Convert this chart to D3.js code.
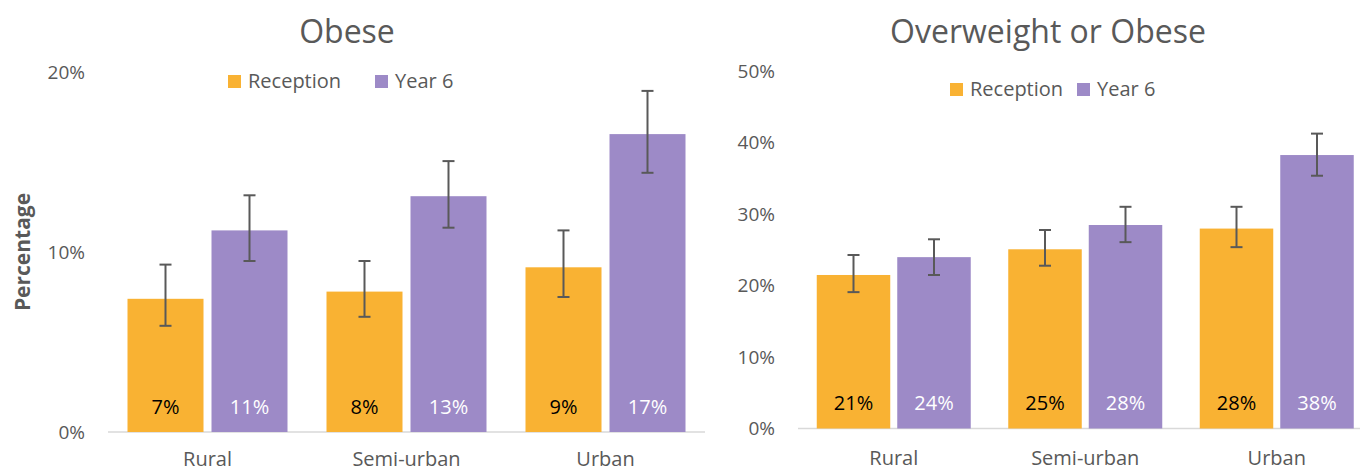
<!DOCTYPE html>
<html>
<head>
<meta charset="utf-8">
<script src="https://cdn.jsdelivr.net/npm/d3@7/dist/d3.min.js"></script>
<style>
  html, body { margin: 0; padding: 0; background: #fff; }
  svg { display: block; font-family: "Open Sans", sans-serif; }
</style>
</head>
<body>
<svg id="chart" width="1360" height="471"></svg>
<script>
// ---- Data ----
const categories = ["Rural", "Semi-urban", "Urban"];
const series = ["Reception", "Year 6"];
const colors = ["#F9B233", "#9D8AC7"];

// Obese panel
const obeseTicks = [0, 10, 20];
const obeseReception = [7.4, 7.8, 9.15];
const obeseReceptionLow = [5.9, 6.4, 7.5];
const obeseReceptionHigh = [9.3, 9.5, 11.2];
const obeseReceptionLabels = ["7%", "8%", "9%"];
const obeseYear6 = [11.2, 13.1, 16.55];
const obeseYear6Low = [9.5, 11.35, 14.4];
const obeseYear6High = [13.15, 15.05, 18.95];
const obeseYear6Labels = ["11%", "13%", "17%"];

// Overweight or Obese panel
const owTicks = [0, 10, 20, 30, 40, 50];
const owReception = [21.5, 25.1, 28.0];
const owReceptionLow = [19.1, 22.8, 25.4];
const owReceptionHigh = [24.3, 27.8, 31.05];
const owReceptionLabels = ["21%", "25%", "28%"];
const owYear6 = [24.0, 28.5, 38.3];
const owYear6Low = [21.5, 26.1, 35.4];
const owYear6High = [26.5, 31.05, 41.3];
const owYear6Labels = ["24%", "28%", "38%"];

const textColor = "#595959";
const svg = d3.select("#chart");

function drawPanel(cfg) {
  const g = svg.append("g");
  const x0 = d3.scaleBand().domain(categories).range([cfg.left, cfg.left + cfg.width]).padding(0);
  const x1 = d3.scaleBand().domain(series)
      .range([cfg.outer, x0.bandwidth() - cfg.outer])
      .paddingInner(cfg.gap / (cfg.barW + cfg.gap)).paddingOuter(0);
  const y = d3.scaleLinear().domain([0, cfg.max]).range([cfg.y0, cfg.yTop]);

  // title
  g.append("text").attr("x", cfg.titleX).attr("y", 43)
    .attr("text-anchor", "middle").attr("font-size", 32).attr("fill", textColor)
    .text(cfg.title);

  // legend
  const lg = g.append("g");
  cfg.legendX.forEach((lx, i) => {
    lg.append("rect").attr("x", lx).attr("y", cfg.legendY - 13).attr("width", 13).attr("height", 13)
      .attr("fill", colors[i]);
    lg.append("text").attr("x", lx + 20).attr("y", cfg.legendY).attr("font-size", 20)
      .attr("fill", textColor).text(series[i]);
  });

  // y axis
  const ya = g.append("g").attr("transform", `translate(${cfg.left},0)`)
    .call(d3.axisLeft(y).tickValues(cfg.ticks).tickSize(0).tickPadding(23).tickFormat(d => d + "%"));
  ya.select(".domain").remove();
  ya.selectAll("text").attr("font-size", 19).attr("fill", textColor).attr("font-family", "Open Sans");

  // baseline
  g.append("line").attr("x1", cfg.left).attr("x2", cfg.left + cfg.width)
    .attr("y1", y(0)).attr("y2", y(0)).attr("stroke", "#D9D9D9").attr("stroke-width", 1.5);

  // x axis labels
  const xa = g.append("g").attr("transform", `translate(0,${y(0)})`)
    .call(d3.axisBottom(x0).tickSize(0).tickPadding(cfg.xPad));
  xa.select(".domain").remove();
  xa.selectAll("text").attr("font-size", 20).attr("fill", textColor).attr("font-family", "Open Sans");

  // bars
  cfg.data.forEach((s, si) => {
    categories.forEach((c, ci) => {
      const bx = x0(c) + x1(series[si]);
      const bw = x1.bandwidth();
      g.append("rect").attr("x", bx).attr("y", y(s.values[ci]))
        .attr("width", bw).attr("height", y(0) - y(s.values[ci]))
        .attr("fill", colors[si]);
      const cx = bx + bw / 2;
      // error bar
      g.append("line").attr("x1", cx).attr("x2", cx)
        .attr("y1", y(s.low[ci])).attr("y2", y(s.high[ci]))
        .attr("stroke", textColor).attr("stroke-width", 2);
      [s.low[ci], s.high[ci]].forEach(v => {
        g.append("line").attr("x1", cx - 6).attr("x2", cx + 6)
          .attr("y1", y(v)).attr("y2", y(v))
          .attr("stroke", textColor).attr("stroke-width", 2);
      });
      // value label
      g.append("text").attr("x", cx).attr("y", cfg.valueY)
        .attr("text-anchor", "middle").attr("font-size", 20)
        .attr("fill", si === 0 ? "#000" : "#fff").text(s.labels[ci]);
    });
  });
}

drawPanel({
  title: "Obese", titleX: 347,
  left: 108, width: 597, outer: 19.5, barW: 76, gap: 8,
  y0: 432, yTop: 72, max: 20, ticks: obeseTicks, xPad: 20,
  legendX: [228, 375], legendY: 88, valueY: 414,
  data: [
    { values: obeseReception, low: obeseReceptionLow, high: obeseReceptionHigh, labels: obeseReceptionLabels },
    { values: obeseYear6, low: obeseYear6Low, high: obeseYear6High, labels: obeseYear6Labels }
  ]
});

drawPanel({
  title: "Overweight or Obese", titleX: 1048,
  left: 798, width: 574.5, outer: 18.75, barW: 73.5, gap: 7,
  y0: 428.5, yTop: 71.5, max: 50, ticks: owTicks, xPad: 22,
  legendX: [950, 1077], legendY: 96, valueY: 410,
  data: [
    { values: owReception, low: owReceptionLow, high: owReceptionHigh, labels: owReceptionLabels },
    { values: owYear6, low: owYear6Low, high: owYear6High, labels: owYear6Labels }
  ]
});

// y-axis title
svg.append("text").attr("transform", "translate(30,252) rotate(-90)")
  .attr("text-anchor", "middle").attr("font-size", 21).attr("font-weight", "bold")
  .attr("fill", textColor).text("Percentage");
</script>
</body>
</html>
